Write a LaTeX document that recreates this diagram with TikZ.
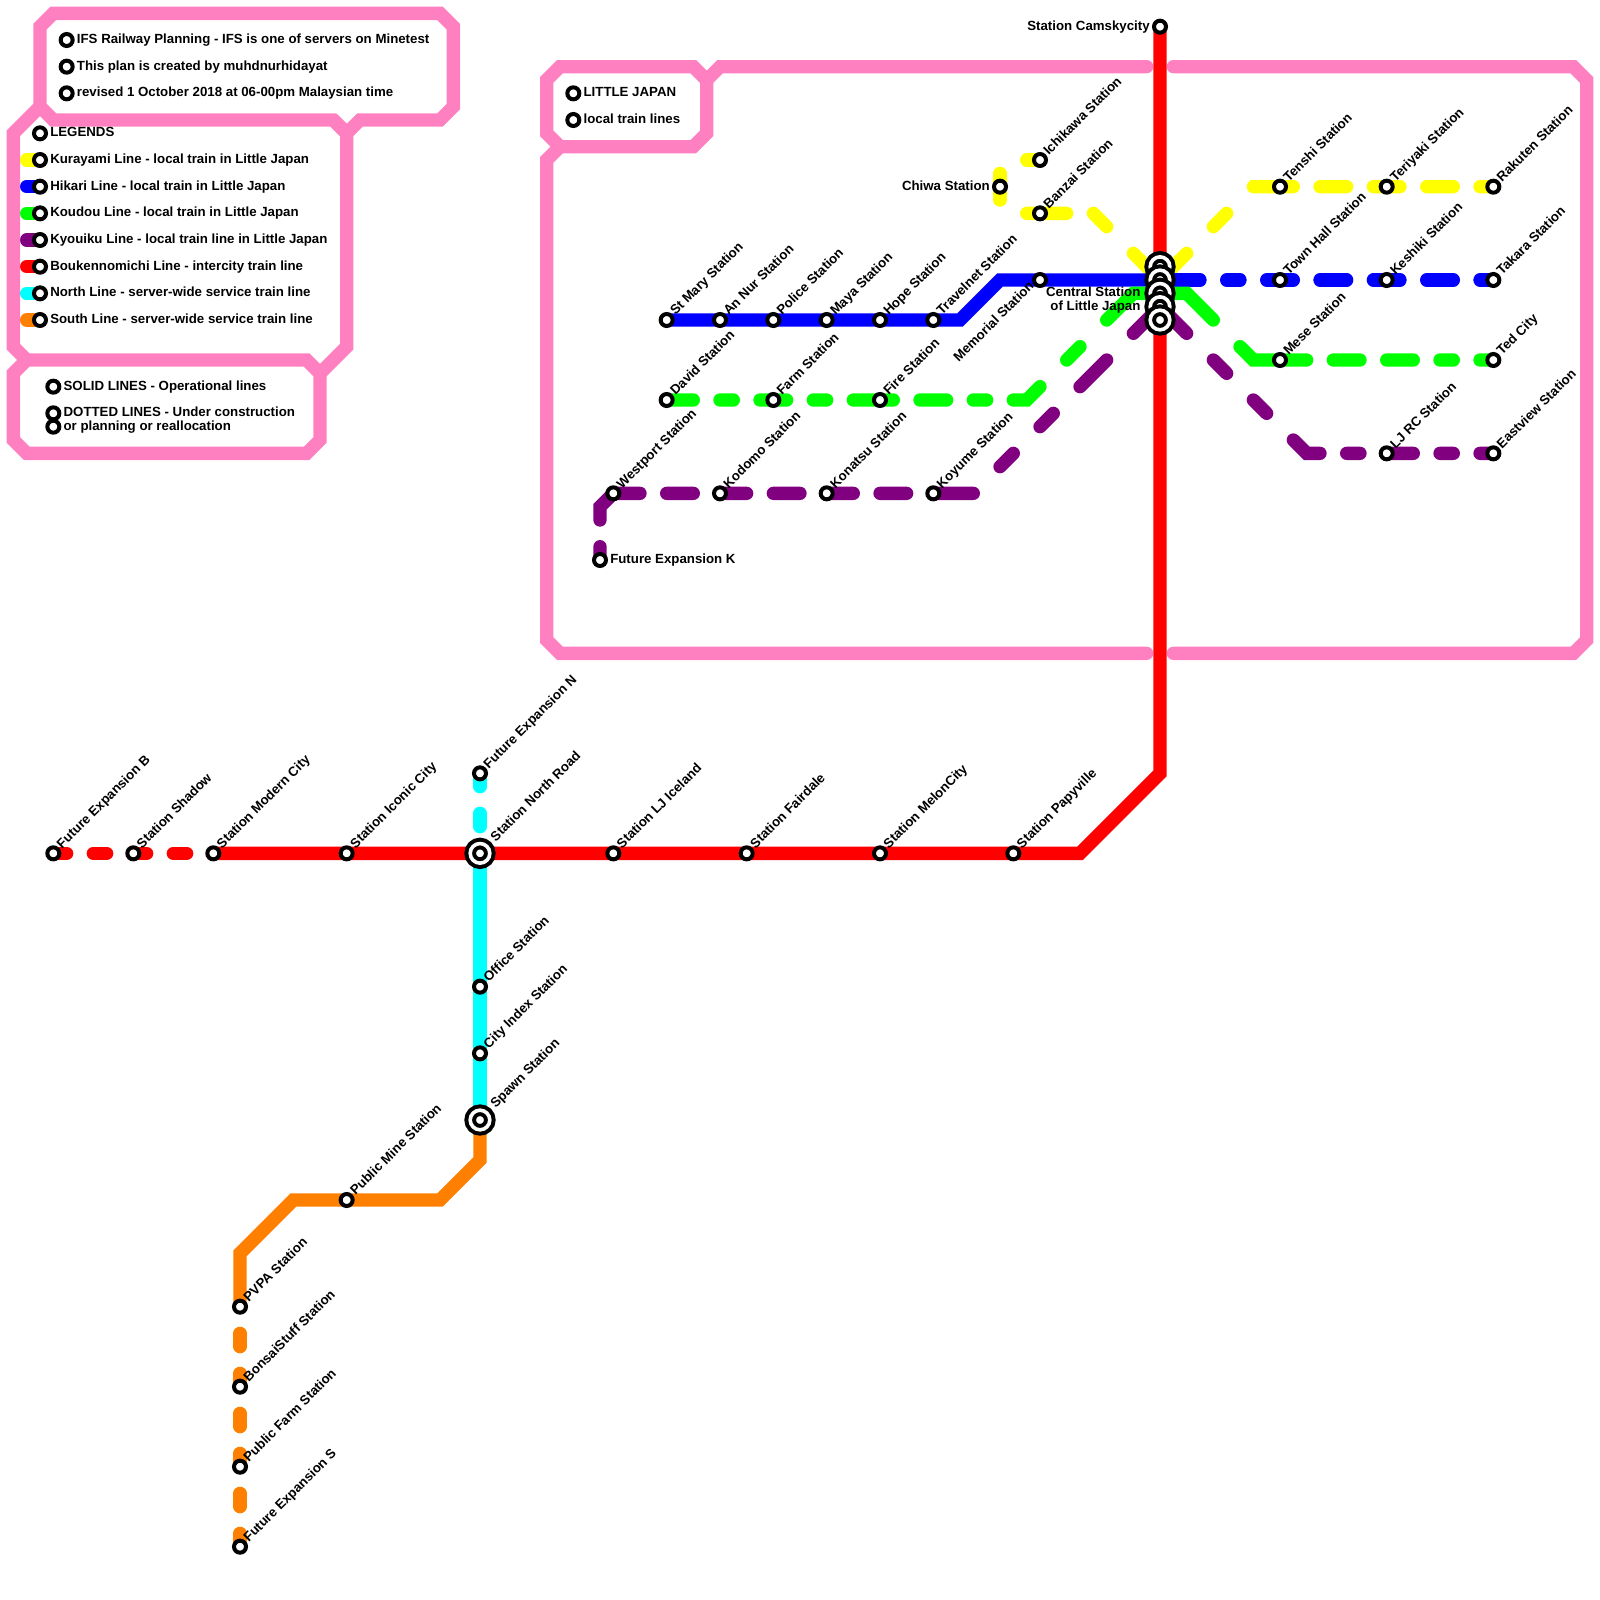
\documentclass[tikz,border=0pt]{standalone}
\usepackage{fontspec}
\setmainfont{Liberation Sans}
\usetikzlibrary{backgrounds}
\definecolor{framepink}{HTML}{FF80C0}
\definecolor{kurayami}{HTML}{FFFF00}
\definecolor{hikari}{HTML}{0000FF}
\definecolor{koudou}{HTML}{00FF00}
\definecolor{kyouiku}{HTML}{800080}
\definecolor{bouken}{HTML}{FF0000}
\definecolor{northline}{HTML}{00FFFF}
\definecolor{southline}{HTML}{FF8000}
\newcommand{\tagfont}{\fontsize{9.95}{10}\selectfont\bfseries}
\begin{document}
\begin{tikzpicture}[x=10pt,y=-10pt,
    stn/.style={circle,draw=black,fill=white,line width=3pt,minimum size=9pt,inner sep=0pt,outer sep=0pt},
    xchg/.style={circle,draw=black,fill=white,line width=3pt,double=white,double distance=2.7pt,minimum size=14.7pt,inner sep=0pt,outer sep=0pt},
    tagup/.style={font=\tagfont,rotate=45,anchor=base west,inner sep=0pt,text=black},
    tagright/.style={font=\tagfont,anchor=base west,inner sep=0pt,text=black},
    tagleft/.style={font=\tagfont,anchor=base east,inner sep=0pt,text=black},
    track/.style={line width=10pt,line cap=round},
    frame/.style={line width=10pt,draw=framepink}]
    \useasboundingbox (0,0) rectangle (120,120);

    % bends and free ends
    \coordinate (hb1) at (72,24);
    \coordinate (hb2) at (75,21);
    \coordinate (yich) at (77,12);
    \coordinate (ychia) at (75,13);
    \coordinate (ychib) at (75,15);
    \coordinate (yban) at (77,16);
    \coordinate (ybl) at (82,16);
    \coordinate (ybr) at (94,14);
    \coordinate (gbl1) at (77,30);
    \coordinate (gbl2) at (85,22);
    \coordinate (gbr1) at (89,22);
    \coordinate (gbr2) at (94,27);
    \coordinate (kb1) at (45,38);
    \coordinate (kb2) at (46,37);
    \coordinate (kb3) at (73,37);
    \coordinate (kb4) at (98,34);
    \coordinate (rb1) at (87,58);
    \coordinate (rb2) at (81,64);
    \coordinate (sb1) at (36,87);
    \coordinate (sb2) at (33,90);
    \coordinate (sb3) at (22,90);
    \coordinate (sb4) at (18,94);

    % stations, label up and to the right
    \foreach \n/\x/\y/\t in {
      ichikawa/78/12/Ichikawa Station,banzai/78/16/Banzai Station,
      tenshi/96/14/Tenshi Station,teriyaki/104/14/Teriyaki Station,rakuten/112/14/Rakuten Station,
      stmary/50/24/St Mary Station,annur/54/24/An Nur Station,police/58/24/Police Station,
      maya/62/24/Maya Station,hope/66/24/Hope Station,travelnet/70/24/Travelnet Station,
      townhall/96/21/Town Hall Station,keshiki/104/21/Keshiki Station,takara/112/21/Takara Station,
      david/50/30/David Station,farm/58/30/Farm Station,fire/66/30/Fire Station,
      mese/96/27/Mese Station,tedcity/112/27/Ted City,
      westport/46/37/Westport Station,kodomo/54/37/Kodomo Station,konatsu/62/37/Konatsu Station,
      koyume/70/37/Koyume Station,ljrc/104/34/LJ RC Station,eastview/112/34/Eastview Station,
      fexpb/4/64/Future Expansion B,shadow/10/64/Station Shadow,modern/16/64/Station Modern City,
      iconic/26/64/Station Iconic City,lji/46/64/Station LJ Iceland,fairdale/56/64/Station Fairdale,
      meloncity/66/64/Station MelonCity,papyville/76/64/Station Papyville,
      fexpn/36/58/Future Expansion N,office/36/74/Office Station,cityindex/36/79/City Index Station,
      publicmine/26/90/Public Mine Station,pvpa/18/98/PVPA Station,bonsai/18/104/BonsaiStuff Station,
      publicfarm/18/110/Public Farm Station,fexps/18/116/Future Expansion S}{
      \node[stn] (\n) at (\x,\y) {};
      \node[tagup] (\n-t) at ([shift={(.65,-.3)}]\n.center) {\t};
    }

    \node[stn] (memorial) at (78,21) {};
    \node[font=\tagfont,rotate=45,anchor=base east,inner sep=0pt] (memorial-t) at ([shift={(-.4,.5)}]memorial.center) {Memorial Station};
    \node[stn] (chiwa) at (75,14) {};
    \node[tagleft] (chiwa-t) at ([shift={(-.75,.25)}]chiwa.center) {Chiwa Station};
    \node[stn] (camsky) at (87,2) {};
    \node[tagleft] (camsky-t) at ([shift={(-.75,.25)}]camsky.center) {Station Camskycity};
    \node[stn] (fexpk) at (45,42) {};
    \node[tagright] (fexpk-t) at ([shift={(.75,.25)}]fexpk.center) {Future Expansion K};

    % interchanges
    \foreach \n/\y in {cena/20,cenb/21,cenc/22,cend/23,cene/24}{
      \node[xchg] (\n) at (87,\y) {};
    }
    \node[font=\tagfont,align=right,anchor=east,inner sep=0pt] (central-t) at (85.55,22.5) {Central Station\\of Little Japan};
    \node[xchg] (northroad) at (36,64) {};
    \node[tagup] (northroad-t) at ([shift={(1.17,-.83)}]northroad.center) {Station North Road};
    \node[xchg] (spawn) at (36,84) {};
    \node[tagup] (spawn-t) at ([shift={(1.17,-.83)}]spawn.center) {Spawn Station};

    % notes in the boxes
    \foreach \n/\x/\y/\t in {
      ifs/5/3/IFS Railway Planning - IFS is one of servers on Minetest,
      plan/5/5/This plan is created by muhdnurhidayat,
      rev/5/7/revised 1 October 2018 at 06-00pm Malaysian time,
      legends/3/10/LEGENDS,
      solid/4/29/SOLID LINES - Operational lines,
      dotted/4/31/DOTTED LINES - Under construction,
      orplan/4/32/or planning or reallocation,
      ljapan/43/7/LITTLE JAPAN,
      ljlocal/43/9/local train lines}{
      \node[stn] (\n) at (\x,\y) {};
      \node[tagright] (\n-t) at ([shift={(.75,.25)}]\n.center) {\t};
    }

    % legend rows
    \foreach \n/\y/\c/\t in {
      lgk/12/kurayami/Kurayami Line - local train in Little Japan,
      lgh/14/hikari/Hikari Line - local train in Little Japan,
      lgd/16/koudou/Koudou Line - local train in Little Japan,
      lgy/18/kyouiku/Kyouiku Line - local train line in Little Japan,
      lgb/20/bouken/Boukennomichi Line - intercity train line,
      lgn/22/northline/North Line - server-wide service train line,
      lgs/24/southline/South Line - server-wide service train line}{
      \node[stn] (\n) at (3,\y) {};
      \node[tagright] (\n-t) at ([shift={(.75,.25)}]\n.center) {\t};
      \coordinate (\n-a) at (2,\y);
      \begin{pgfonlayer}{background}
        \draw[track,\c] (\n-a) -- (\n.center);
      \end{pgfonlayer}
    }

    \begin{pgfonlayer}{background}
      % frames
      \draw[frame] (3,2) -- (4,1) -- (33,1) -- (34,2) -- (34,8) -- (33,9) -- (27,9) -- (26,10) -- (25,9) -- (4,9) -- (3,8) -- cycle;
      \draw[frame] (3,8) -- (1,10) -- (1,26) -- (2,27);
      \draw[frame] (25,9) -- (26,10) -- (26,26) -- (24,28);
      \draw[frame] (1,28) -- (2,27) -- (23,27) -- (24,28) -- (24,33) -- (23,34) -- (2,34) -- (1,33) -- cycle;
      \draw[frame] (41,6) -- (42,5) -- (52,5) -- (53,6) -- (53,10) -- (52,11) -- (42,11) -- (41,10) -- cycle;
      \draw[frame,line cap=round] (86,5) -- (54,5) -- (53,6);
      \draw[frame,line cap=round] (42,11) -- (41,12) -- (41,48) -- (42,49) -- (86,49);
      \draw[frame,line cap=round] (88,5) -- (118,5) -- (119,6) -- (119,48) -- (118,49) -- (88,49);

      % Kurayami
      \draw[track,kurayami] (yich) -- (ichikawa.center);
      \draw[track,kurayami] (ychia) -- (ychib);
      \draw[track,kurayami,dash pattern=on 30pt off 20pt on 14.142pt off 28.284pt on 28.284pt] (yban) -- (ybl) -- (cenb.center);
      \draw[track,kurayami,dash pattern=on 28.284pt off 28.284pt on 14.142pt off 28.284pt on 30pt off 20pt on 20pt off 20pt on 20pt off 20pt on 20pt off 20pt on 10pt] (cenb.center) -- (ybr) -- (rakuten.center);
      % Hikari
      \draw[track,hikari,line cap=butt] (stmary.center) -- (hb1) -- (hb2) -- (cenb.center);
      \draw[track,hikari,dash pattern=on 30pt off 20pt on 10pt off 20pt on 20pt off 20pt on 20pt off 20pt on 20pt off 20pt on 20pt off 20pt on 10pt] (cenb.center) -- (takara.center);
      % Koudou
      \draw[track,koudou,dash pattern=on 20pt off 20pt on 10pt off 20pt on 20pt off 20pt on 10pt off 20pt on 30pt off 20pt on 20pt off 20pt on 10pt off 20pt on 24.142pt off 28.284pt on 14.142pt off 28.284pt on 48.284pt] (david.center) -- (gbl1) -- (gbl2) -- (cenc.center);
      \draw[track,koudou,dash pattern=on 48.284pt off 28.284pt on 54.142pt off 20pt on 20pt off 20pt on 20pt off 20pt on 10pt off 20pt on 10pt] (cenc.center) -- (gbr1) -- (gbr2) -- (tedcity.center);
      % Kyouiku
      \draw[track,kyouiku,dash pattern=on 10pt off 20pt on 44.142pt off 20pt on 20pt off 20pt on 20pt off 20pt on 20pt off 20pt on 20pt off 20pt on 20pt off 20pt on 30pt off 28.284pt on 14.142pt off 28.284pt on 14.142pt off 28.284pt on 28.284pt off 28.284pt on 28.284pt] (fexpk.center) -- (kb1) -- (kb2) -- (kb3) -- (cend.center);
      \draw[track,kyouiku,dash pattern=on 28.284pt off 28.284pt on 14.142pt off 28.284pt on 14.142pt off 28.284pt on 24.142pt off 20pt on 10pt off 20pt on 20pt off 20pt on 10pt off 20pt on 10pt] (cend.center) -- (kb4) -- (eastview.center);
      % North, South
      \draw[track,northline,dash pattern=on 10pt off 20pt] (fexpn.center) -- (northroad.center);
      \draw[track,northline,line cap=butt] (northroad.center) -- (spawn.center);
      \draw[track,southline,line cap=butt] (spawn.center) -- (sb1) -- (sb2) -- (sb3) -- (sb4) -- (pvpa.center);
      \draw[track,southline,dash pattern=on 10pt off 20pt] (fexps.center) -- (pvpa.center);
      % Boukennomichi
      \draw[track,bouken,dash pattern=on 10pt off 20pt] (fexpb.center) -- (modern.center);
      \draw[track,bouken,line cap=butt] (modern.center) -- (rb2) -- (rb1) -- (camsky.center);
    \end{pgfonlayer}
\end{tikzpicture}
\end{document}
